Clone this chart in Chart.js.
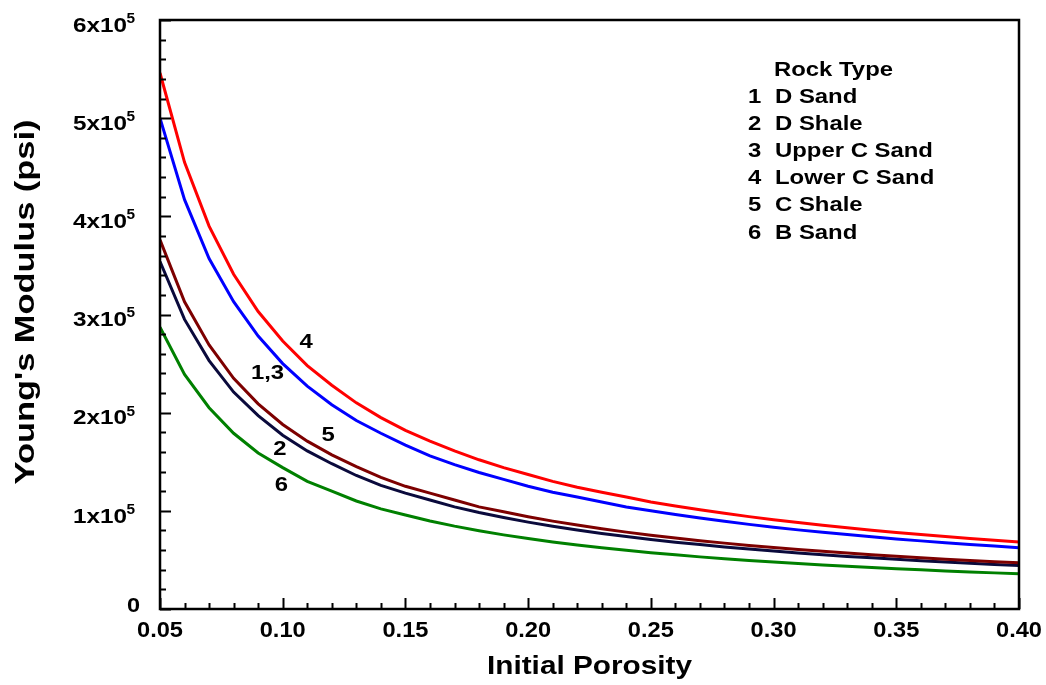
<!DOCTYPE html>
<html>
<head>
<meta charset="utf-8">
<script src="https://cdn.jsdelivr.net/npm/chart.js@4"></script>
<style>
html,body{margin:0;padding:0;background:#fff}
#wrap{width:1046px;height:685px}
</style>
</head>
<body>
<div id="wrap"><canvas id="chart" width="1046" height="685"></canvas></div>
<script>
// initial porosity (fraction)
const porosity=[0.05,0.06,0.07,0.08,0.09,0.10,0.11,0.12,0.13,0.14,0.15,0.16,0.17,0.18,0.19,0.20,0.21,0.22,0.23,0.24,0.25,0.26,0.27,0.28,0.29,0.30,0.31,0.32,0.33,0.34,0.35,0.36,0.37,0.38,0.39,0.40];
// Young's modulus (psi)
const lowerCSand=[546000,455000,390000,341000,303000,273000,248000,228000,210000,195000,182000,171000,161000,152000,144000,137000,130000,124000,119000,114000,109000,105000,101000,97500,94100,91000,88100,85300,82700,80300,78000,75800,73800,71800,70000,68300];
const dSandUpperC=[500000,417000,357000,313000,278000,250000,227000,208000,192000,179000,167000,156000,147000,139000,132000,125000,119000,114000,109000,104000,100000,96200,92600,89300,86200,83300,80600,78100,75800,73500,71400,69400,67600,65800,64100,62500];
const cShale=[376000,313000,269000,235000,209000,188000,171000,157000,145000,134000,125000,118000,111000,104000,99000,94000,89500,85500,81700,78300,75200,72300,69600,67100,64800,62700,60600,58800,57000,55300,53700,52200,50800,49500,48200,47000];
const dShale=[354000,295000,253000,221000,197000,177000,161000,148000,136000,126000,118000,111000,104000,98300,93200,88500,84300,80500,77000,73800,70800,68100,65600,63200,61000,59000,57100,55300,53600,52100,50600,49200,47800,46600,45400,44300];
const bSand=[287000,239000,205000,179000,159000,144000,130000,120000,110000,102000,95700,89700,84400,79700,75500,71800,68300,65200,62400,59800,57400,55200,53100,51300,49500,47800,46300,44800,43500,42200,41000,39900,38800,37800,36800,35900];

const xTicks=[0.05,0.10,0.15,0.20,0.25,0.30,0.35,0.40];
const yTicks=[0,100000,200000,300000,400000,500000,600000];
const yLabelMant=["0","1","2","3","4","5","6"];

const legendTitle="Rock Type";
const legendNums=["1","2","3","4","5","6"];
const legendNames=["D Sand","D Shale","Upper C Sand","Lower C Sand","C Shale","B Sand"];

// curve tags, placed in data units
const tagText=["4","1,3","5","2","6"];
const tagX=[0.1095,0.0938,0.1185,0.0989,0.0995];
const tagY=[271000,240000,177000,162000,126000];

const FONT='"Liberation Sans", Arial, sans-serif';
const pts=v=>porosity.map((p,i)=>({x:p,y:v[i]}));
const ds=(label,data,color)=>({label,data:pts(data),borderColor:color,backgroundColor:color,borderWidth:3,pointRadius:0,tension:0,fill:false});

function txt(ctx,s,x,y,size,opt={}){
  ctx.save();ctx.font="bold "+size+"px "+FONT;
  const m=ctx.measureText(s).width;const sx=opt.w?opt.w/m:(opt.sx||1);
  ctx.translate(x,y);if(opt.rot)ctx.rotate(opt.rot);ctx.scale(sx,1);
  ctx.textAlign=opt.align||"center";ctx.textBaseline="middle";ctx.fillStyle="#000";
  ctx.fillText(s,0,0);ctx.restore();return m*sx;
}

const deco={id:"deco",afterDraw(c){
  const ctx=c.ctx,a=c.chartArea,xs=c.scales.x,ys=c.scales.y;
  ctx.save();ctx.strokeStyle="#000";ctx.lineWidth=2.5;
  ctx.strokeRect(a.left,a.top,a.right-a.left,a.bottom-a.top);
  ctx.lineWidth=2;ctx.beginPath();
  for(let v=0;v<=600000;v+=20000){const y=Math.round(ys.getPixelForValue(v))+0.5;const L=v%100000===0?11:6;ctx.moveTo(a.left,y);ctx.lineTo(a.left+L,y);}
  for(let k=5;k<=40;k++){const x=Math.round(xs.getPixelForValue(k/100))+0.5;const L=k%5===0?11:6;ctx.moveTo(x,a.bottom);ctx.lineTo(x,a.bottom-L);}
  ctx.stroke();ctx.restore();
  // y tick labels with superscript
  yTicks.forEach((v,i)=>{const y=ys.getPixelForValue(v);
    if(v===0){txt(ctx,"0",140,y-3,21,{align:"right",sx:1.12});return;}
    txt(ctx,yLabelMant[i]+"x10",127,y+6,21,{align:"right",w:54});
    txt(ctx,"5",135,y-1,14,{align:"right",sx:1.1});
  });
  xTicks.forEach(v=>txt(ctx,v.toFixed(2),xs.getPixelForValue(v),631,22,{w:46}));
  txt(ctx,"Initial Porosity",(a.left+a.right)/2,667,26,{w:205});
  txt(ctx,"Young's Modulus (psi)",27,302,27,{w:365,rot:-Math.PI/2});
  // legend block
  ctx.save();ctx.font="bold 20px "+FONT;const lsx=119/ctx.measureText(legendTitle).width;ctx.restore();
  txt(ctx,legendTitle,774,70,20,{align:"left",sx:lsx});
  legendNames.forEach((n,i)=>{const y=97+i*27.2;
    txt(ctx,legendNums[i],748,y,20,{align:"left",sx:lsx});
    txt(ctx,n,775,y,20,{align:"left",sx:lsx});});
  tagText.forEach((t,i)=>txt(ctx,t,xs.getPixelForValue(tagX[i]),ys.getPixelForValue(tagY[i]),20,{sx:lsx}));
}};

new Chart(document.getElementById("chart"),{
  type:"line",
  data:{datasets:[
    ds("4 Lower C Sand",lowerCSand,"#ff0000"),
    ds("1,3 D Sand / Upper C Sand",dSandUpperC,"#0000ff"),
    ds("5 C Shale",cShale,"#7d0000"),
    ds("2 D Shale",dShale,"#0a0a3c"),
    ds("6 B Sand",bSand,"#008000")
  ]},
  options:{responsive:false,animation:false,
    layout:{padding:{top:20,right:27,left:0,bottom:0}},
    plugins:{legend:{display:false},tooltip:{enabled:false}},
    scales:{
      x:{type:"linear",min:0.05,max:0.40,grid:{display:false},border:{display:false},ticks:{display:false},afterFit:s=>{s.height=76}},
      y:{type:"linear",min:0,max:600000,grid:{display:false},border:{display:false},ticks:{display:false},afterFit:s=>{s.width=160}}
    }},
  plugins:[deco]
});
</script>
</body>
</html>
